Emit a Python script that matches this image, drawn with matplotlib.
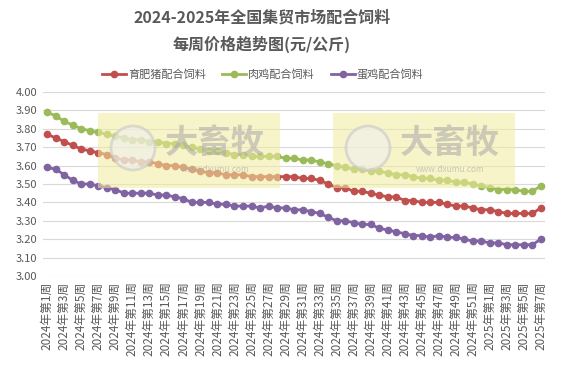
import matplotlib.pyplot as plt
from matplotlib.patches import Rectangle, Circle

plt.rcParams['font.family'] = ['Noto Sans CJK SC', 'DejaVu Sans']

# weeks: 2024 week 1..52, 2025 week 1..7
weeks = [f'2024年第{w}周' for w in range(1, 53)] + [f'2025年第{w}周' for w in range(1, 8)]

pig = [3.77, 3.75, 3.73, 3.71, 3.69, 3.68, 3.67, 3.66, 3.64, 3.63,
       3.63, 3.62, 3.62, 3.61, 3.60, 3.60, 3.59, 3.58, 3.57, 3.56,
       3.56, 3.55, 3.55, 3.55, 3.54, 3.54, 3.54, 3.54, 3.54, 3.54,
       3.53, 3.53, 3.52, 3.50, 3.48, 3.48, 3.46, 3.46, 3.45, 3.44,
       3.43, 3.43, 3.41, 3.41, 3.40, 3.40, 3.40, 3.39, 3.38, 3.38,
       3.37, 3.36, 3.36, 3.35, 3.34, 3.34, 3.34, 3.34, 3.37]
broiler = [3.89, 3.87, 3.84, 3.82, 3.80, 3.79, 3.78, 3.77, 3.76, 3.75,
           3.74, 3.74, 3.73, 3.73, 3.72, 3.72, 3.71, 3.70, 3.69, 3.68,
           3.68, 3.67, 3.66, 3.66, 3.65, 3.65, 3.65, 3.65, 3.64, 3.64,
           3.63, 3.63, 3.62, 3.61, 3.60, 3.59, 3.58, 3.58, 3.57, 3.57,
           3.56, 3.55, 3.55, 3.54, 3.53, 3.53, 3.52, 3.52, 3.51, 3.51,
           3.50, 3.49, 3.48, 3.47, 3.47, 3.47, 3.46, 3.46, 3.49]
layer = [3.59, 3.58, 3.55, 3.52, 3.50, 3.50, 3.49, 3.48, 3.47, 3.45,
         3.45, 3.45, 3.45, 3.44, 3.44, 3.43, 3.42, 3.40, 3.40, 3.40,
         3.39, 3.39, 3.38, 3.38, 3.38, 3.37, 3.38, 3.37, 3.37, 3.36,
         3.36, 3.35, 3.34, 3.32, 3.30, 3.30, 3.29, 3.28, 3.28, 3.26,
         3.25, 3.24, 3.23, 3.22, 3.22, 3.21, 3.22, 3.21, 3.21, 3.20,
         3.19, 3.19, 3.18, 3.18, 3.17, 3.17, 3.17, 3.17, 3.20]

series = [('育肥猪配合饲料', pig, '#C0504D'),
          ('肉鸡配合饲料', broiler, '#9BBB59'),
          ('蛋鸡配合饲料', layer, '#8064A2')]

fig = plt.figure(figsize=(5.68, 3.65), dpi=100)
ax = fig.add_axes([0.0757, 0.2438, 0.884, 0.5042])

x = list(range(len(weeks)))
for name, vals, col in series:
    ax.plot(x, vals, color=col, lw=2, marker='o', ms=4.5, label=name, zorder=3)

ax.set_xlim(-0.5, len(weeks) - 0.5)
ax.set_ylim(3.0, 4.0)
ax.set_yticks([3.0 + 0.1 * i for i in range(11)])
ax.set_yticklabels([f'{3.0 + 0.1 * i:.2f}' for i in range(11)], fontsize=8, color='#595959')
ax.set_xticks(x[::2])
ax.set_xticklabels(weeks[::2], rotation=90, fontsize=8.5, color='#595959')
ax.tick_params(length=0, pad=4)
ax.grid(axis='y', color='#d9d9d9', lw=0.8)
ax.set_axisbelow(True)
for s in ax.spines.values():
    s.set_visible(False)

# watermark boxes
for x0 in (98, 333):
    fig.patches.append(Rectangle((x0 / 568, 1 - 188 / 365), 182 / 568, 75 / 365,
                                 transform=fig.transFigure, facecolor='#f3eca0',
                                 alpha=0.55, edgecolor='none', zorder=5))
    fig.patches.append(Circle((x0 + 35, 365 - 148), 22, transform=None,
                              facecolor='#eeeeee', edgecolor='#c8c8c8', lw=2,
                              alpha=0.6, zorder=6))
    fig.text((x0 + 117) / 568, 1 - 143 / 365, '大畜牧', fontsize=24, fontweight='bold',
             color='#a8a8a8', alpha=0.55, ha='center', va='center', zorder=7)
    fig.text((x0 + 117) / 568, 1 - 170 / 365, 'www.dxumu.com', fontsize=6,
             color='#a8a8a8', alpha=0.6, ha='center', va='center', zorder=7)

fig.text(262 / 568, 1 - 18 / 365, '2024-2025年全国集贸市场配合饲料', fontsize=11.5,
         fontweight='bold', color='#595959', ha='center', va='center')
fig.text(262 / 568, 1 - 44 / 365, '每周价格趋势图(元/公斤)', fontsize=11.5,
         fontweight='bold', color='#595959', ha='center', va='center')

fig.legend(loc='center', bbox_to_anchor=(263 / 568, 1 - 74 / 365), ncol=3, frameon=False,
           fontsize=8, labelcolor='#595959', handlelength=2.1, columnspacing=1.5,
           handletextpad=0.2)

fig.savefig('out.png', dpi=100)
